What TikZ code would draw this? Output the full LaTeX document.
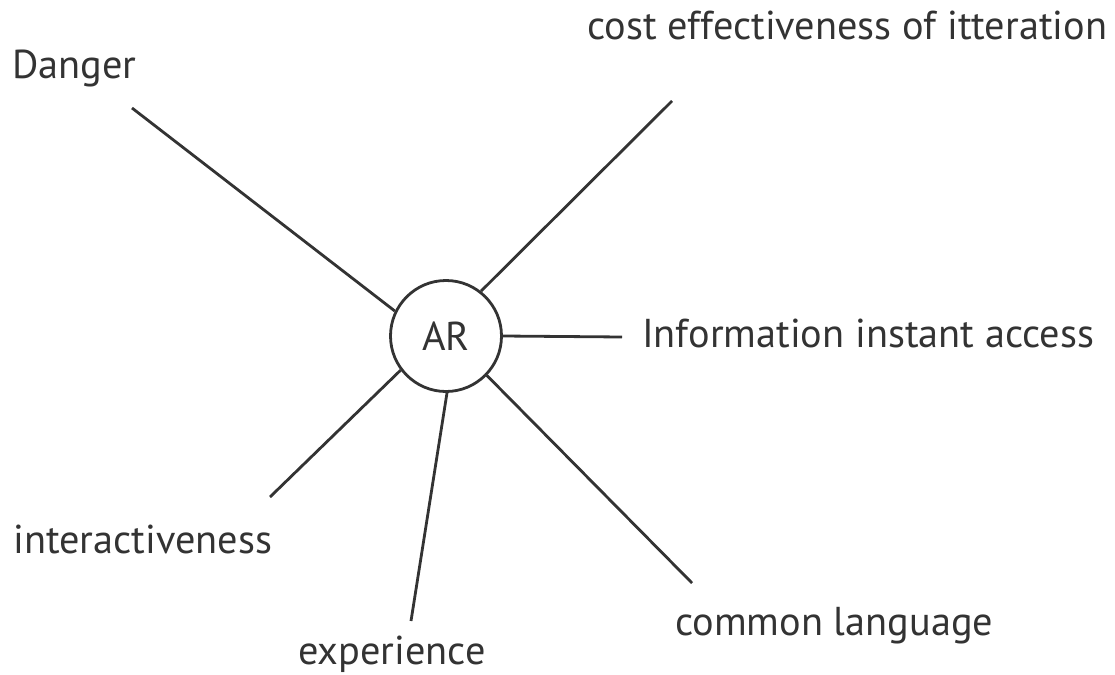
\documentclass[tikz,border=0pt]{standalone}
\usepackage{fontspec}
\setmainfont{PT Sans}
\definecolor{ink}{HTML}{333333}

\begin{document}
\begin{tikzpicture}[x=1pt, y=-1pt,
	spoke/.style={draw=ink, line width=2.8pt},
	word/.style={anchor=base west, inner sep=0pt, text=ink, font=\fontsize{40.3}{41}\selectfont}]
	\useasboundingbox (0,0) rectangle (1115,674);

	\node [circle, draw=ink, line width=2.8pt, minimum size=111pt, inner sep=0pt,
		text=ink, font=\fontsize{40.3}{41}\selectfont] (ar) at (446,336) {AR};

	\coordinate (danger) at (132,108);
	\coordinate (cost) at (672,101);
	\coordinate (info) at (622,337);
	\coordinate (inter) at (270,497);
	\coordinate (exp) at (411,621);
	\coordinate (common) at (692,583);

	\draw [spoke] (ar.154) -- (danger);
	\draw [spoke] (ar.52) -- (cost);
	\draw [spoke] (ar.0) -- (info);
	\draw [spoke] (ar.217) -- (inter);
	\draw [spoke] (ar.271) -- (exp);
	\draw [spoke] (ar.316) -- (common);

	\node [word] (t-danger) at (12,79) {Danger};
	\node [word] (t-cost) at (587,40) {cost effectiveness of itteration};
	\node [word] (t-info) at (642,347) {Information instant access};
	\node [word] (t-inter) at (13,553) {interactiveness};
	\node [word] (t-exp) at (298,664) {experience};
	\node [word] (t-common) at (675,635) {common language};
\end{tikzpicture}
\end{document}
